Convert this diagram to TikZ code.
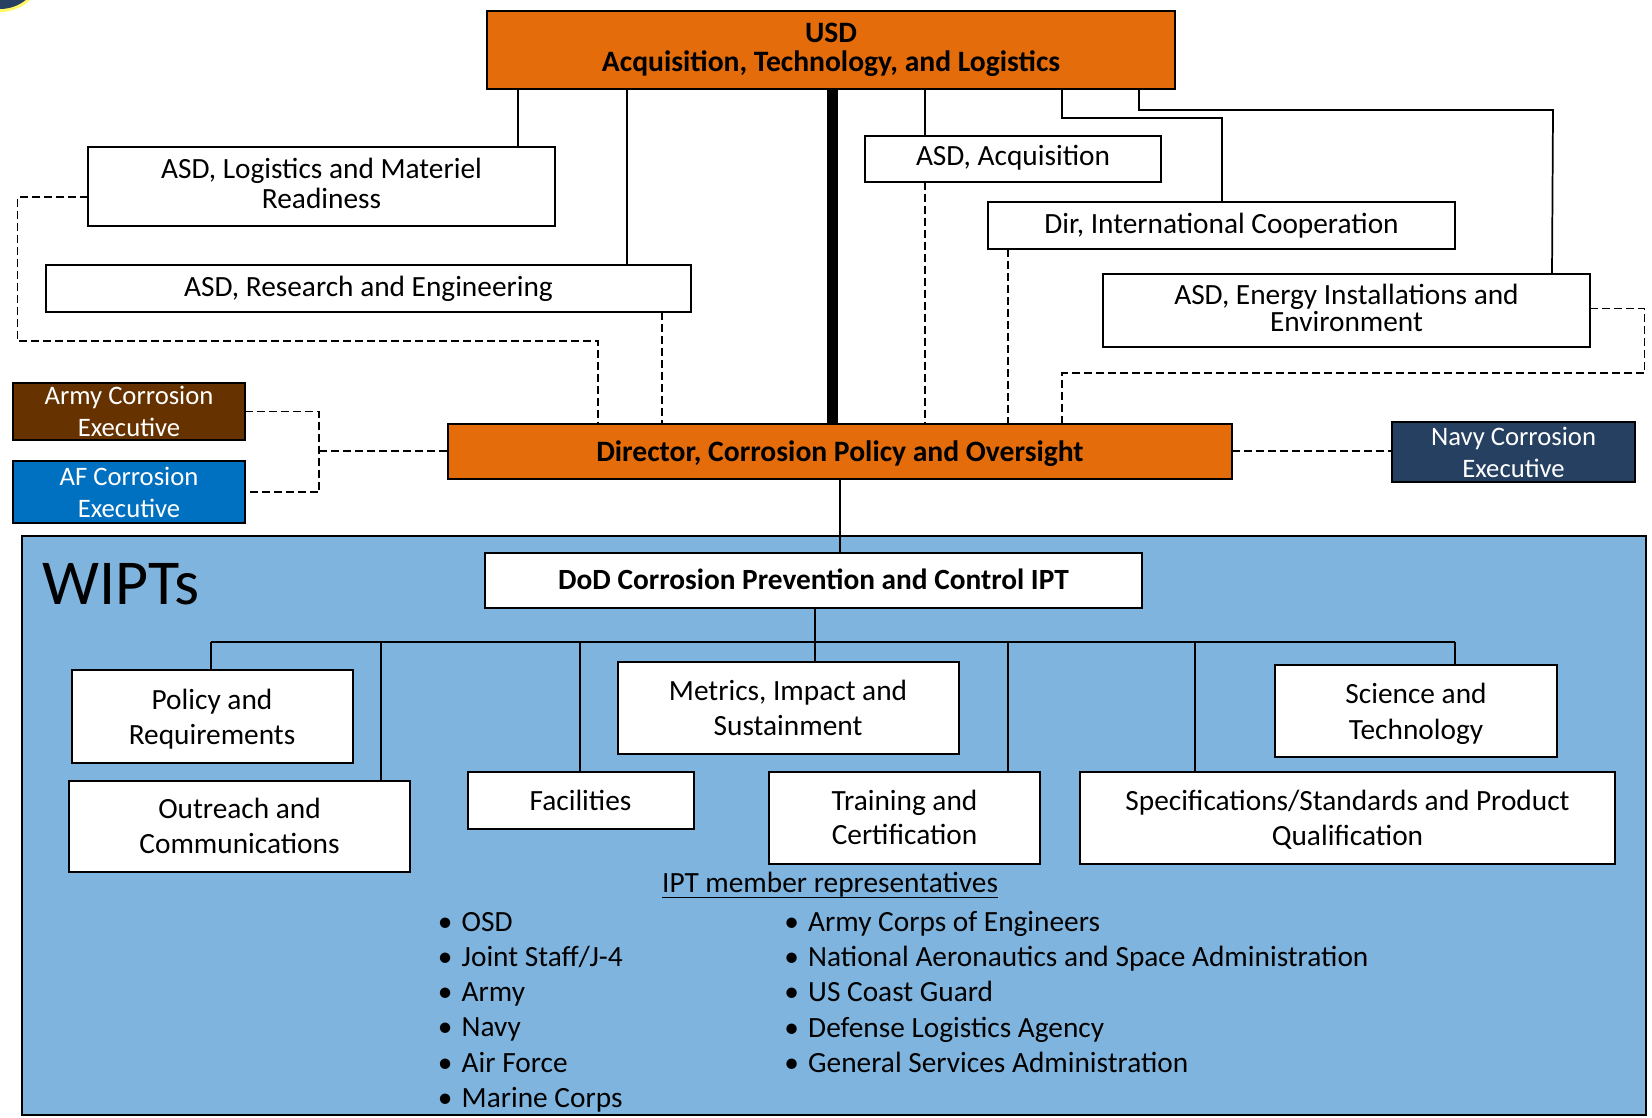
\documentclass[tikz,border=0pt]{standalone}
\usepackage{fontspec}
\setmainfont{Carlito}
\usetikzlibrary{arrows.meta, positioning, shapes}
\definecolor{orangebox}{HTML}{E46C0A}
\definecolor{panelblue}{HTML}{7FB4DE}
\definecolor{armybrown}{HTML}{663300}
\definecolor{afblue}{HTML}{0070C0}
\definecolor{navyblue}{HTML}{254061}
\tikzset{
  size/.style 2 args={minimum width=#1*0.75pt, minimum height=#2*0.75pt},
  box/.style={draw, rectangle, fill=white, line width=1.5pt, inner sep=0pt, outer sep=0pt, align=center, font=\fontsize{22}{26}\selectfont},
  orangecard/.style={box, fill=orangebox, font=\fontsize{22.2}{22}\selectfont\bfseries},
  execcard/.style={box, text=white, font=\fontsize{20}{24}\selectfont},
  conn/.style={line width=1.3pt},
  dashconn/.style={line width=1.3pt, dash pattern=on 6pt off 3pt},
  listing/.style={align=left, anchor=north west, inner sep=0pt, font=\fontsize{22}{26.4}\selectfont},
}
\begin{document}
\begin{tikzpicture}[x=0.75pt, y=-0.75pt]
  \useasboundingbox (0,0) rectangle (1652,1117);
  % Seal
  \begin{scope}
    \clip (0,0) rectangle (60,20);
    \fill[yellow!60!white] (0,-32) circle (44);
    \fill[navyblue] (0,-32) circle (41);
  \end{scope}

  % Panel
  \node (panel) [draw, rectangle, fill=panelblue, line width=1.3pt, size={1624}{579}, inner sep=0pt] at (834,825.5) {};
  \node (wipts) [anchor=west, inner sep=0pt, font=\fontsize{48}{48}\selectfont] at (42,584) {WIPTs};

  % Nodes
  \node (usd) [orangecard, size={688}{78}] at (831,50) {USD\\Acquisition, Technology, and Logistics};
  \node (log) [box, size={467}{79}, font=\fontsize{22}{22.5}\selectfont, text depth=5.5pt] at (321.5,186.5) {ASD, Logistics and Materiel\\Readiness};
  \node (randd) [box, size={645}{47}] at (368.5,288.5) {ASD, Research and Engineering};
  \node (acq) [box, size={296}{46}, text depth=6pt] at (1013,159) {ASD, Acquisition};
  \node (intl) [box, size={467}{47}] at (1221.5,225.5) {Dir, International Cooperation};
  \node (energy) [box, size={487}{73}, font=\fontsize{22}{18.5}\selectfont, text depth=4pt] at (1346.5,310.5) {ASD, Energy Installations and\\Environment};
  \node (army) [execcard, fill=armybrown, size={232}{57}, text depth=-2pt] at (129,411.5) {Army Corrosion\\Executive};
  \node (af) [execcard, fill=afblue, size={232}{62}] at (129,492) {AF Corrosion\\Executive};
  \node (navy) [execcard, fill=navyblue, size={243}{60}] at (1513.5,452) {Navy Corrosion\\Executive};
  \node (director) [orangecard, size={784}{55}, text depth=0pt] at (840,451) {Director, Corrosion Policy and Oversight};
  \node (dod) [box, size={657}{55}, font=\fontsize{22}{22}\selectfont\bfseries, text depth=1.5pt] at (813.5,580) {DoD Corrosion Prevention and Control IPT};
  \node (policy) [box, size={281}{93}, text depth=0pt] at (212,716.5) {Policy and\\Requirements};
  \node (outreach) [box, size={341}{91}] at (239.5,826) {Outreach and\\Communications};
  \node (facilities) [box, size={226}{57}] at (580.5,800) {Facilities};
  \node (metrics) [box, size={341}{92}] at (788,708) {Metrics, Impact and\\Sustainment};
  \node (training) [box, size={271}{92}] at (904.5,817.5) {Training and\\Certification};
  \node (specs) [box, size={535}{92}, text depth=0pt] at (1347.5,817.5) {Specifications/Standards and Product\\Qualification};
  \node (science) [box, size={282}{92}, font=\fontsize{22}{27}\selectfont, text depth=0pt] at (1416,711) {Science and\\Technology};
  \node (members) [inner sep=0pt, font=\fontsize{22}{22}\selectfont] at (830,885) {\underline{\raisebox{0pt}[\height][2pt]{IPT member representatives}}};
  \node (listleft) [listing] at (437.5,912) {\textbullet\hspace{7pt}OSD\\\textbullet\hspace{7pt}Joint Staff/J-4\\\textbullet\hspace{7pt}Army\\\textbullet\hspace{7pt}Navy\\\textbullet\hspace{7pt}Air Force\\\textbullet\hspace{7pt}Marine Corps};
  \node (listright) [listing] at (784,911) {\textbullet\hspace{7pt}Army Corps of Engineers\\\textbullet\hspace{7pt}National Aeronautics and Space Administration\\\textbullet\hspace{7pt}US Coast Guard\\\textbullet\hspace{7pt}Defense Logistics Agency\\\textbullet\hspace{7pt}General Services Administration};

  % Bus
  \coordinate (busleft) at (211,642);
  \coordinate (busright) at (1455,642);
  \coordinate (execjoin) at (319,451);
  \coordinate (farleft) at (17.5,341);
  \coordinate (farright) at (1644.5,373);

  % Solid lines
  \draw[line width=8.25pt] (usd.south -| 832.5,0) -- (director.north -| 832.5,0);
  \draw[conn] (usd.south -| 518,0) -- (log.north -| 518,0);
  \draw[conn] (usd.south -| 627,0) -- (randd.north -| 627,0);
  \draw[conn] (usd.south -| 925,0) -- (acq.north -| 925,0);
  \draw[conn] (usd.south -| 1062,0) -- (1062,118) -- (1222,118) -- (intl.north -| 1222,0);
  \draw[conn] (usd.south -| 1139,0) -- (1139,110) -- (1553,110) -- (energy.north -| 1552,0);
  \draw[conn] (director.south) -- (dod.north -| director.south);
  \draw[conn] (dod.south -| 815,0) -- (metrics.north -| 815,0);
  \draw[conn, line width=1.5pt] (busleft) -- (busright);
  \draw[conn] (busleft) -- (policy.north -| busleft);
  \draw[conn] (busleft -| 381,0) -- (outreach.north -| 381,0);
  \draw[conn] (busleft -| 580,0) -- (facilities.north -| 580,0);
  \draw[conn] (busleft -| 1008,0) -- (training.north -| 1008,0);
  \draw[conn] (busleft -| 1195,0) -- (specs.north -| 1195,0);
  \draw[conn] (busright) -- (science.north -| busright);

  % Dashed lines
  \draw[dashconn] (log.west |- 0,197) -- (farleft |- 0,197) -- (farleft) -- (598,341) -- (director.north -| 598,0);
  \draw[dashconn] (randd.south -| 662,0) -- (director.north -| 662,0);
  \draw[dashconn] (acq.south -| 925,0) -- (director.north -| 925,0);
  \draw[dashconn] (intl.south -| 1008,0) -- (director.north -| 1008,0);
  \draw[dashconn] (energy.east |- 0,308.5) -- (farright |- 0,308.5) -- (farright) -- (1062,373) -- (director.north -| 1062,0);
  \draw[dashconn] (army.east) -- (execjoin |- army.east) -- (execjoin |- af.east) -- (af.east);
  \draw[dashconn] (execjoin) -- (director.west |- execjoin);
  \draw[dashconn] (director.east) -- (navy.west |- director.east);
\end{tikzpicture}
\end{document}
